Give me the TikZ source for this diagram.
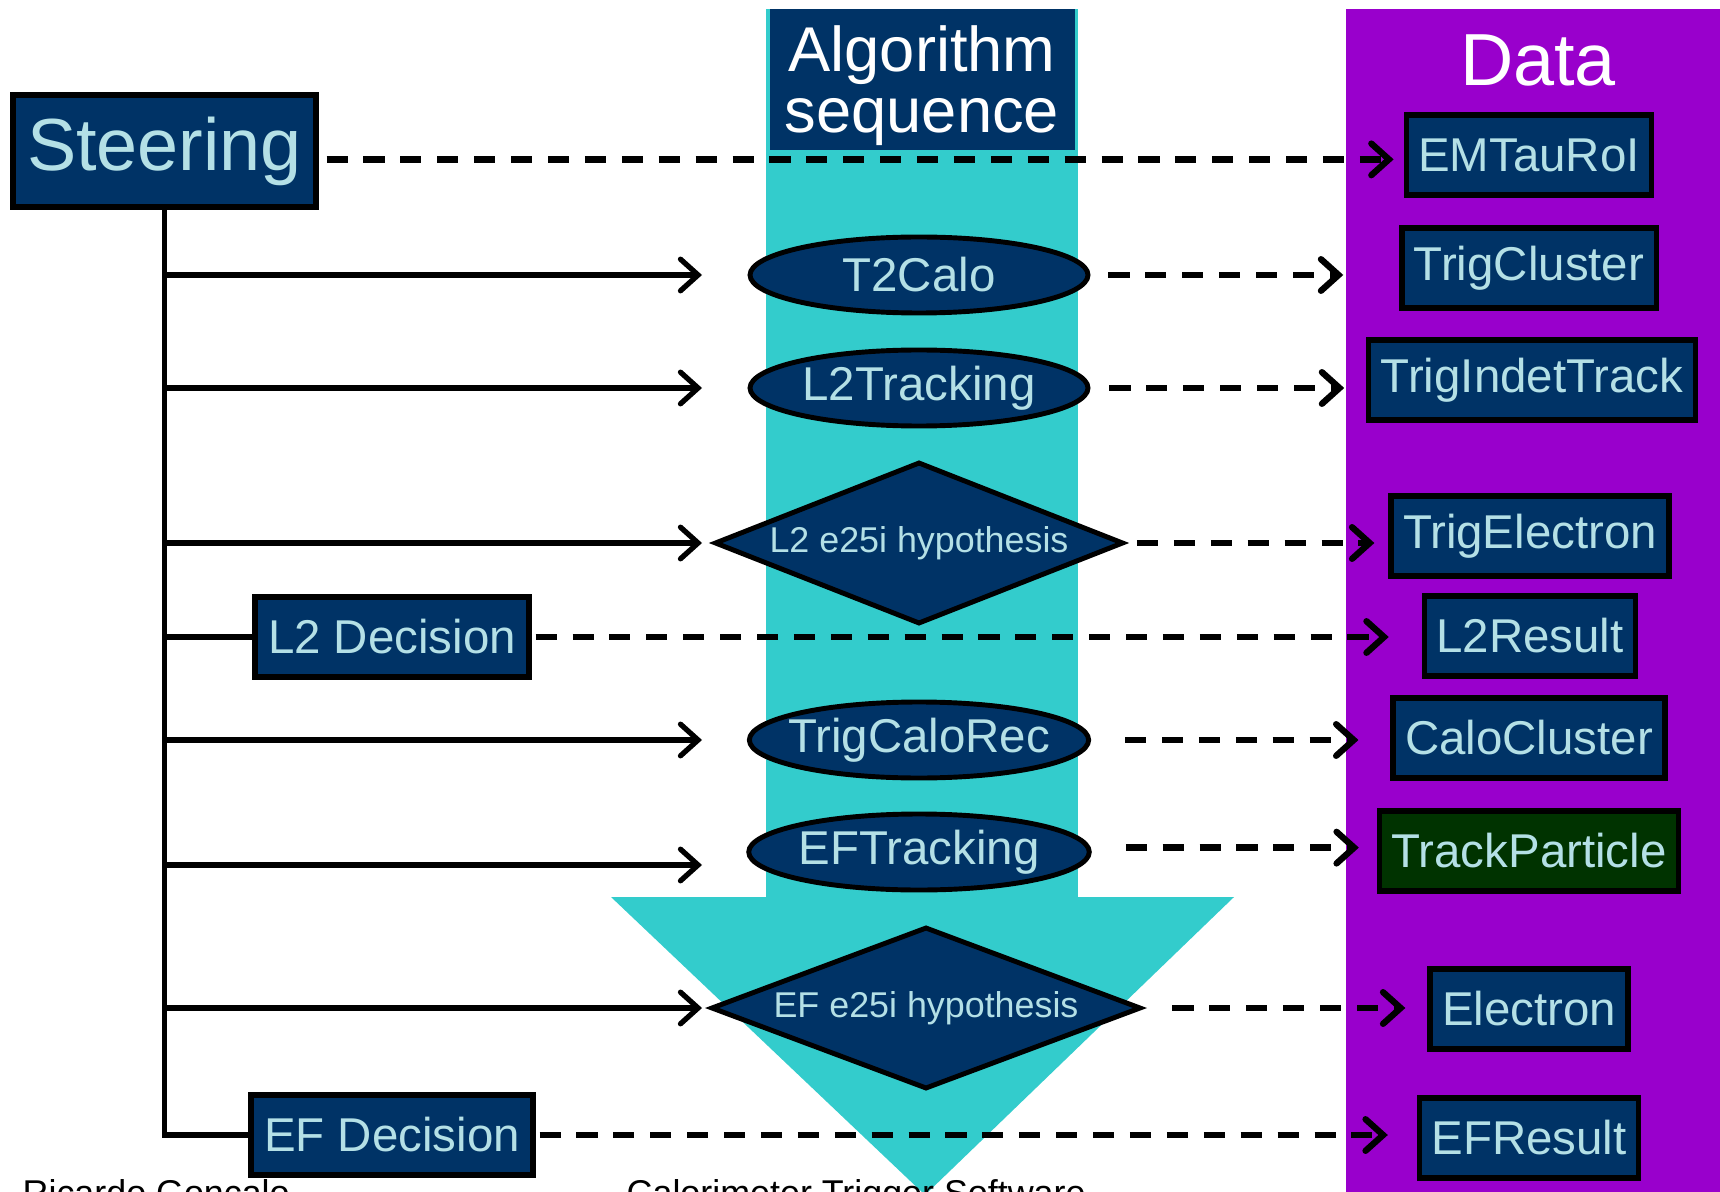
\documentclass[tikz,border=0pt]{standalone}
\usepackage{fontspec}
\setmainfont{Liberation Sans}
\usetikzlibrary{shapes, arrows.meta, positioning}
\definecolor{navy}{RGB}{0,51,102}
\definecolor{paleblue}{RGB}{180,224,230}
\definecolor{seqteal}{RGB}{51,204,204}
\definecolor{datapurple}{RGB}{153,0,204}
\definecolor{darkgreen}{RGB}{0,51,0}
\tikzset{
    boxnode/.style = {draw, rectangle, line width=1.5pt, fill=navy, text=paleblue,
      inner xsep=1.2mm, inner ysep=0mm, minimum height=8mm, font=\fontsize{13.5}{16}\selectfont},
    steernode/.style = {boxnode, inner xsep=1.4mm, minimum height=11.2mm, font=\fontsize{21}{24}\selectfont},
    algnode/.style = {draw, ellipse, line width=1.4pt, fill=navy, text=paleblue, inner sep=0mm,
      minimum width=33.8mm, minimum height=7.6mm, font=\fontsize{13.5}{16}\selectfont},
    hypnode/.style = {draw, diamond, aspect=2.5, line width=1.4pt, fill=navy, text=paleblue, inner sep=0mm,
      minimum height=16.2mm, font=\fontsize{10.2}{12}\selectfont},
    headnode/.style = {rectangle, fill=navy, minimum width=30.5mm, minimum height=14.1mm, inner sep=0mm},
    headtext/.style = {text=white, align=center, inner sep=0mm, font=\fontsize{18}{17.4}\selectfont},
    textnode/.style = {draw=none, fill=none, inner sep=0mm, font=\fontsize{10.2}{12}\selectfont},
    callline/.style = {line width=1.5pt},
    callarrow/.style = {callline, -{Straight Barb[length=5pt,width=9pt,line cap=round]}},
    dataarrow/.style = {line width=1.8pt, dash pattern=on 6pt off 4.5pt,
      -{Straight Barb[length=5pt,width=9pt,line cap=round]}}
}

\begin{document}
\begin{tikzpicture}[x=0.1mm, y=-0.1mm]
\useasboundingbox (0,0) rectangle (1720,1192);

% sequence arrow and data panel
\fill [seqteal] (766,9) rectangle (1078,897);
\fill [seqteal] (611,897) -- (1234,897) -- (925,1195) -- cycle;
\fill [datapurple] (1346,9) rectangle (1720,1192);

\node [headnode, name = alghead,
  label={[headtext, yshift=-0.6mm]center:Algorithm\\sequence}] at (922,80) {};
\node [textnode, name = datahead, text=white, font=\fontsize{21}{24}\selectfont] at (1538,60) {Data};

\node [steernode, name = steer] at (164.5,151) {Steering};
\node [boxnode, name = l2dec, inner xsep=1.3mm] at (392,637) {L2 Decision};
\node [boxnode, name = efdec, inner xsep=1.3mm] at (392,1135) {EF Decision};

\node [algnode, name = t2calo] at (919,275) {T2Calo};
\node [algnode, name = l2trk] at (919,388) {L2Tracking};
\node [hypnode, name = l2hyp, minimum width=40.9mm] at (919,543) {L2 e25i hypothesis};
\node [algnode, name = calorec, inner xsep=-1.1mm] at (919,740) {TrigCaloRec};
\node [algnode, name = eftrk] at (919,852) {EFTracking};
\node [hypnode, name = efhyp, minimum width=43mm] at (926,1008) {EF e25i hypothesis};

\node [boxnode, name = emtau] at (1529,155) {EMTauRoI};
\node [boxnode, name = trigcluster] at (1529,268) {TrigCluster};
\node [boxnode, name = trigindet] at (1532,380) {TrigIndetTrack};
\node [boxnode, name = trigelectron] at (1530,536) {TrigElectron};
\node [boxnode, name = l2result] at (1530,636) {L2Result};
\node [boxnode, name = calocluster] at (1529,738) {CaloCluster};
\node [boxnode, name = trackparticle, fill=darkgreen] at (1529,851) {TrackParticle};
\node [boxnode, name = electron] at (1529,1009) {Electron};
\node [boxnode, name = efresult] at (1529,1138) {EFResult};

\node [textnode, name = author, anchor=base west] at (22,1205) {Ricardo Goncalo};
\node [textnode, name = title, anchor=base west] at (626,1205) {Calorimeter Trigger Software};

% steering calls
\coordinate (algin) at (702,0);
\draw [callline] (steer.south) -- (steer.south |- efdec) -- (efdec.west);
\draw [callline] (steer.south |- l2dec) -- (l2dec.west);
\draw [callarrow] (steer.south |- t2calo) -- (algin |- t2calo);
\draw [callarrow] (steer.south |- l2trk) -- (algin |- l2trk);
\draw [callarrow] (steer.south |- l2hyp) -- (algin |- l2hyp);
\draw [callarrow] (steer.south |- calorec) -- (algin |- calorec);
\draw [callarrow, transform canvas={yshift=-1.3mm}] (steer.south |- eftrk) -- (algin |- eftrk);
\draw [callarrow] (steer.south |- efhyp) -- (algin |- efhyp);

% data written
\draw [dataarrow, transform canvas={yshift=-0.44mm}, shorten <=0.8mm, shorten >=1mm] (steer.east |- emtau) -- (emtau.west);
\draw [dataarrow, shorten <=1.8mm, shorten >=5.6mm] (t2calo.east) -- (t2calo.east -| trigcluster.west);
\draw [dataarrow, shorten <=1.9mm, shorten >=2.2mm] (l2trk.east) -- (l2trk.east -| trigindet.west);
\draw [dataarrow, shorten <=1.1mm, shorten >=1.4mm] (l2hyp.east) -- (l2hyp.east -| trigelectron.west);
\draw [dataarrow, shorten <=0.4mm, shorten >=3.3mm] (l2dec.east) -- (l2dec.east -| l2result.west);
\draw [dataarrow, shorten <=3.4mm, shorten >=3.2mm] (calorec.east) -- (calorec.east -| calocluster.west);
\draw [dataarrow, transform canvas={yshift=0.44mm}, shorten <=3.4mm, shorten >=1.8mm] (eftrk.east) -- (eftrk.east -| trackparticle.west);
\draw [dataarrow, shorten <=2.9mm, shorten >=2.2mm] (efhyp.east) -- (efhyp.east -| electron.west);
\draw [dataarrow, shorten <=0.4mm, shorten >=2.9mm] (efdec.east) -- (efdec.east -| efresult.west);
\end{tikzpicture}
\end{document}
